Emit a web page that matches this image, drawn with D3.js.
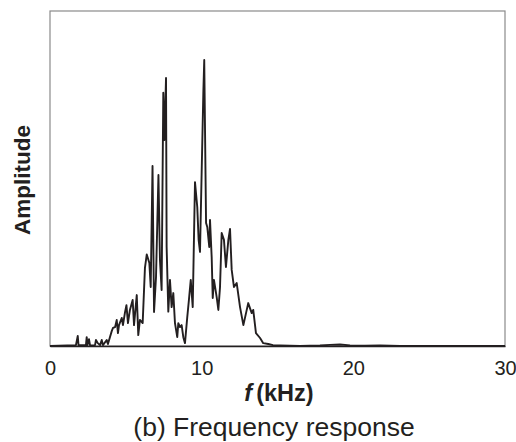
<!DOCTYPE html>
<html>
<head>
<meta charset="utf-8">
<script src="https://cdn.jsdelivr.net/npm/d3@7"></script>
<style>
html,body{margin:0;padding:0;background:#fff;}
svg{display:block;font-family:"Liberation Sans",Arial,sans-serif;}
</style>
</head>
<body>
<svg id="chart" width="516" height="442"></svg>
<script>
const freq = [0,1.71,1.83,1.88,2.37,2.42,2.47,2.57,2.64,2.97,3.03,3.15,3.30,3.41,3.49,3.74,3.82,
4.07,4.15,4.29,4.40,4.48,4.55,4.73,4.81,4.95,5.04,5.14,5.27,5.45,5.54,5.72,5.82,5.93,6.11,
6.26,6.38,6.55,6.64,6.76,6.86,6.99,7.15,7.25,7.36,7.47,7.54,7.65,7.69,7.80,7.91,8.02,8.13,
8.24,8.39,8.46,8.57,8.68,8.79,8.90,9.05,9.16,9.28,9.41,9.56,9.71,9.80,9.89,10.00,10.11,10.17,
10.29,10.37,10.50,10.55,10.66,10.73,10.81,10.99,11.10,11.21,11.32,11.47,11.60,11.76,11.87,
11.98,12.13,12.31,12.53,12.75,13.07,13.30,13.40,13.58,13.85,14.06,14.39,14.70,15.16,16.48,
17.80,18.46,19.12,19.78,20.77,21.76,23.08,30];
const amplitude = [0,0.003,0.035,0.003,0.003,0.031,0.003,0.024,0.002,0.003,0.021,0.010,0.003,0.021,0.003,0.021,0.007,
0.052,0.063,0.066,0.091,0.045,0.073,0.098,0.073,0.119,0.143,0.080,0.126,0.161,0.073,0.178,0.038,0.091,0.080,
0.273,0.320,0.290,0.206,0.629,0.119,0.241,0.598,0.301,0.196,0.885,0.720,0.937,0.346,0.120,0.231,0.136,0.185,
0.080,0.031,0.080,0.066,0.073,0.031,0.010,0.101,0.161,0.231,0.136,0.573,0.486,0.371,0.329,0.608,0.885,1.000,
0.430,0.416,0.346,0.441,0.311,0.168,0.231,0.171,0.126,0.206,0.395,0.371,0.276,0.371,0.409,
0.266,0.206,0.220,0.136,0.073,0.150,0.115,0.126,0.045,0.028,0.010,0.007,0.003,0.002,0.000,
0.002,0.004,0.005,0.002,0.001,0.002,0.000,0.000];
const xTicks = [0,10,20,30];
const xLabel = "f";
const xUnit = "(kHz)";
const yLabel = "Amplitude";
const caption = "(b) Frequency response";

const svg = d3.select("#chart");
const m = {left:50, right:505, top:11, bottom:346};
const x = d3.scaleLinear().domain([0,30]).range([m.left, m.right]);
const y = d3.scaleLinear().domain([0,1.171]).range([m.bottom, m.top]);

// frame
svg.append("rect").attr("x",m.left).attr("y",m.top)
  .attr("width",m.right-m.left).attr("height",m.bottom-m.top)
  .attr("fill","none").attr("stroke","#8a8a8a").attr("stroke-width",1.2);

const data = freq.map((f,i)=>({f, a:amplitude[i]}));
svg.append("path").datum(data)
  .attr("fill","none").attr("stroke","#231f20").attr("stroke-width",1.9)
  .attr("stroke-linejoin","round")
  .attr("d", d3.line().x(d=>x(d.f)).y(d=>y(d.a)));

// x axis
const ax = svg.append("g").attr("transform",`translate(0,${m.bottom})`)
  .call(d3.axisBottom(x).tickValues(xTicks).tickSize(0).tickPadding(0));
ax.select(".domain").attr("stroke","#231f20").attr("stroke-width",1.6);
ax.selectAll("text").attr("font-size",20).attr("fill","#231f20")
  .attr("font-family","Liberation Sans, Arial, sans-serif")
  .attr("dy",null).attr("y",29);

const xl = svg.append("text").attr("x",279).attr("y",401).attr("text-anchor","middle")
  .attr("font-size",23.5).attr("font-weight","bold").attr("fill","#231f20");
xl.append("tspan").attr("font-style","italic").text(xLabel);
xl.append("tspan").attr("dx",4).text(xUnit);

svg.append("text").attr("transform","translate(30,180) rotate(-90)")
  .attr("text-anchor","middle").attr("font-size",22.5).attr("font-weight","bold")
  .attr("fill","#231f20").text(yLabel);

svg.append("text").attr("x",274).attr("y",436).attr("text-anchor","middle")
  .attr("font-size",26.5).attr("fill","#231f20").text(caption);
</script>
</body>
</html>
